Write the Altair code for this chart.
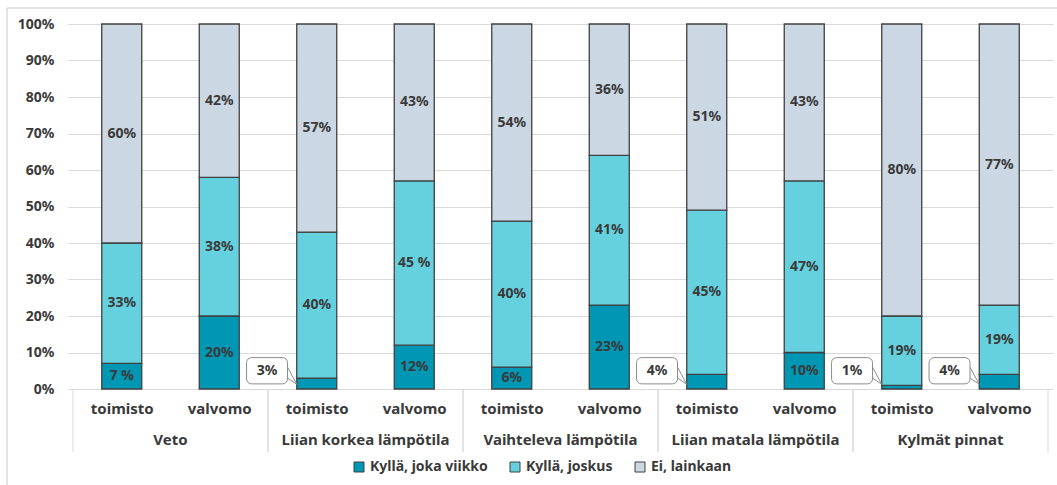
import altair as alt
import pandas as pd

groups = ["Veto", "Liian korkea lämpötila", "Vaihteleva lämpötila",
          "Liian matala lämpötila", "Kylmät pinnat"]
places = ["toimisto", "valvomo"]
series = ["Kyllä, joka viikko", "Kyllä, joskus", "Ei, lainkaan"]
colors = ["#0097B4", "#66D1DE", "#CBD7E3"]

weekly = [7, 20, 3, 12, 6, 23, 4, 10, 1, 4]
sometimes = [33, 38, 40, 45, 40, 41, 45, 47, 19, 19]
never = [60, 42, 57, 43, 54, 36, 51, 43, 80, 77]

weekly_labels = ["7 %", "20%", "3%", "12%", "6%", "23%", "4%", "10%", "1%", "4%"]
sometimes_labels = ["33%", "38%", "40%", "45 %", "40%", "41%", "45%", "47%", "19%", "19%"]
never_labels = ["60%", "42%", "57%", "43%", "54%", "36%", "51%", "43%", "80%", "77%"]
callout = [False, False, True, False, False, False, True, False, True, True]

FONT = "Noto Sans"
TXT = "#3a3a3a"
GRID = "#d9d9d9"

rows = []
for i in range(10):
    g = groups[i // 2]
    p = places[i % 2]
    for k, (vals, labs) in enumerate([(weekly, weekly_labels),
                                      (sometimes, sometimes_labels),
                                      (never, never_labels)]):
        rows.append(dict(idx=i, group=g, place=p, series=series[k], ord=k,
                         value=vals[i], label=labs[i],
                         callout=bool(callout[i]) and k == 0))
df = pd.DataFrame(rows)

W, H = 985, 365
xscale = alt.Scale(domain=[-0.5, 9.5], nice=False, zero=False)
yscale = alt.Scale(domain=[0, 100], nice=False)

xaxis = alt.Axis(values=list(range(10)),
                 labelExpr="datum.value % 2 == 0 ? 'toimisto' : 'valvomo'",
                 grid=False, ticks=False, domain=False,
                 labelFont=FONT, labelFontSize=15, labelFontWeight="bold",
                 labelColor=TXT, labelPadding=12)
yaxis = alt.Axis(values=list(range(0, 101, 10)),
                 labelExpr="datum.value + '%'", labelOverlap=False,
                 grid=True, gridColor=GRID, gridWidth=1,
                 ticks=False, domain=False,
                 labelFont=FONT, labelFontSize=14, labelFontWeight="bold",
                 labelColor=TXT, labelPadding=14)


def X(f):
    return alt.X(f, scale=xscale, axis=xaxis, title=None)


def Y(f):
    return alt.Y(f, scale=yscale, axis=yaxis, title=None)


base = alt.Chart(df)
stacked = base.transform_stack(
    stack="value", as_=["v0", "v1"], groupby=["idx"],
    sort=[alt.SortField("ord", order="ascending")]
)

bars = stacked.mark_bar(size=40, stroke="#404040", strokeWidth=1.3).encode(
    x=X("idx:Q"),
    y=Y("v0:Q"),
    y2="v1:Q",
    color=alt.Color("series:N", scale=alt.Scale(domain=series, range=colors),
                    legend=alt.Legend(title=None, orient="none", direction="horizontal",
                                      legendX=284, legendY=436,
                                      symbolType="square", symbolSize=100,
                                      symbolStrokeColor="#404040", symbolStrokeWidth=1,
                                      labelFont=FONT, labelFontSize=14,
                                      labelFontWeight="bold", labelColor=TXT,
                                      columnPadding=20, labelOffset=4)),
)

seg_text = stacked.transform_filter("!datum.callout").transform_calculate(
    mid="(datum.v0 + datum.v1) / 2"
).mark_text(font=FONT, fontSize=14, fontWeight="bold", color=TXT,
            baseline="middle").encode(
    x=X("idx:Q"),
    y=Y("mid:Q"),
    text="label:N",
)

co = base.transform_filter("datum.callout").transform_calculate(
    bx1="datum.idx - 0.72", bx2="datum.idx - 0.30", tx="datum.idx - 0.51",
    tipx="datum.idx - 0.205", lo="1.4", hi="8.6", ya="6.0", yb="1.3",
    yc="3.0", ty="5.0"
)
boxes = co.mark_rect(fill="white", stroke="#8c8c8c", strokeWidth=1,
                     cornerRadius=5).encode(
    x=X("bx1:Q"), x2="bx2:Q",
    y=Y("lo:Q"), y2="hi:Q",
)
tail1 = co.mark_rule(color="#8c8c8c", strokeWidth=1).encode(
    x=X("bx2:Q"), x2="tipx:Q", y=Y("ya:Q"), y2="yb:Q")
tail2 = co.mark_rule(color="#8c8c8c", strokeWidth=1).encode(
    x=X("bx2:Q"), x2="tipx:Q", y=Y("yc:Q"), y2="yb:Q")
co_text = co.mark_text(
    font=FONT, fontSize=14, fontWeight="bold", color=TXT, baseline="middle").encode(
    x=X("tx:Q"),
    y=Y("ty:Q"),
    text="label:N",
)

first = base.transform_filter("datum.ord == 0")
group_text = first.transform_filter("datum.place == 'toimisto'").transform_calculate(
    gx="datum.idx + 0.5").mark_text(
    font=FONT, fontSize=15, fontWeight="bold", color=TXT, baseline="middle").encode(
    x=X("gx:Q"),
    y=alt.value(416),
    text="group:N",
)
seps = first.transform_calculate(
    sx="datum.place == 'toimisto' ? datum.idx - 0.5 : datum.idx + 0.5"
).mark_rule(color=GRID, strokeWidth=1).encode(
    x=X("sx:Q"),
    y=alt.value(H), y2=alt.value(428),
)

one = base.transform_filter("datum.idx == 0 && datum.ord == 0")
border_top = one.mark_rule(color="#c8c8c8", strokeWidth=1).encode(
    x=alt.value(-61), x2=alt.value(1000), y=alt.value(-16))
border_left = one.mark_rule(color="#c8c8c8", strokeWidth=1).encode(
    x=alt.value(-61), y=alt.value(-16), y2=alt.value(470))

chart = alt.layer(
    border_top, border_left, seps, bars, seg_text, tail1, tail2, boxes, co_text,
    group_text
).properties(
    width=W, height=H,
    background="white",
    autosize=alt.AutoSizeParams(type="none"),
    padding={"left": 68, "top": 24, "right": 4, "bottom": 96},
).configure_view(strokeWidth=0, stroke="transparent")

chart.save("out.html", embed_options={"renderer": "svg", "actions": False})
